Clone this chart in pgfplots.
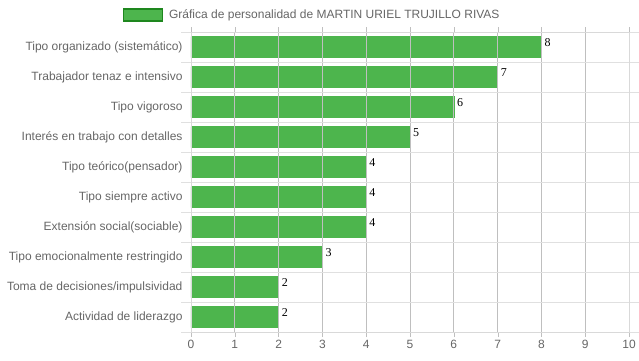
\documentclass[border=0pt]{standalone}
\usepackage{fontspec}
\setmainfont{Liberation Sans}
\newfontfamily\serifnum{Liberation Serif}
\usepackage{pgfplots}
\pgfplotsset{compat=1.18}
\definecolor{barc}{RGB}{77,181,77}
\definecolor{legb}{RGB}{30,135,30}
\definecolor{tickc}{RGB}{102,102,102}
\begin{document}
\begin{tikzpicture}
\useasboundingbox (-191pt,-28pt) rectangle (448pt,332pt);
\begin{axis}[
  at={(0pt,0pt)}, anchor=south west,
  scale only axis, width=438pt, height=300pt,
  xbar, bar width=21pt,
  xmin=0, xmax=10, xtick={0,...,10},
  ymin=-0.5, ymax=9.5, y dir=reverse,
  ytick={0,...,9},
  minor ytick={-0.5,0.5,...,9.5},
  yticklabels={Tipo organizado (sistemático),Trabajador tenaz e intensivo,Tipo vigoroso,Interés en trabajo con detalles,Tipo teórico(pensador),Tipo siempre activo,Extensión social(sociable),Tipo emocionalmente restringido,Toma de decisiones/impulsividad,Actividad de liderazgo},
  /pgf/number format/assume math mode=true,
  tick label style={font=\fontsize{12pt}{14pt}\selectfont, text=tickc},
  tick align=outside, major tick length=5pt, minor tick length=10pt,
  every major y tick/.append style={draw=none},
  every major x tick/.append style={draw=black!25},
  every minor y tick/.append style={draw=black!12},
  xmajorgrids, yminorgrids, ymajorgrids=false,
  major grid style={draw=black!25, line width=0.8pt},
  minor grid style={draw=black!12, line width=0.8pt},
  axis line style={draw=black!15},
  x axis line style={draw=black!40},
  axis on top,
  nodes near coords,
  every node near coord/.append style={font=\serifnum\fontsize{12pt}{12pt}\selectfont, text=black, anchor=north west, yshift=11pt, xshift=1pt, inner sep=2pt},
  legend style={at={(0.281,1.057)}, anchor=center, draw=none, fill=none, font=\fontsize{12pt}{14pt}\selectfont, text=tickc,
    nodes={inner xsep=6pt}},
  legend image code/.code={\draw[fill=barc,draw=legb,line width=1.5pt] (-2pt,-6pt) rectangle (37pt,6pt);},
]
\addplot[fill=barc, draw=barc] coordinates {(8,0) (7,1) (6,2) (5,3) (4,4) (4,5) (4,6) (3,7) (2,8) (2,9)};
\addlegendentry{Gráfica de personalidad de MARTIN URIEL TRUJILLO RIVAS}
\end{axis}
\end{tikzpicture}
\end{document}
